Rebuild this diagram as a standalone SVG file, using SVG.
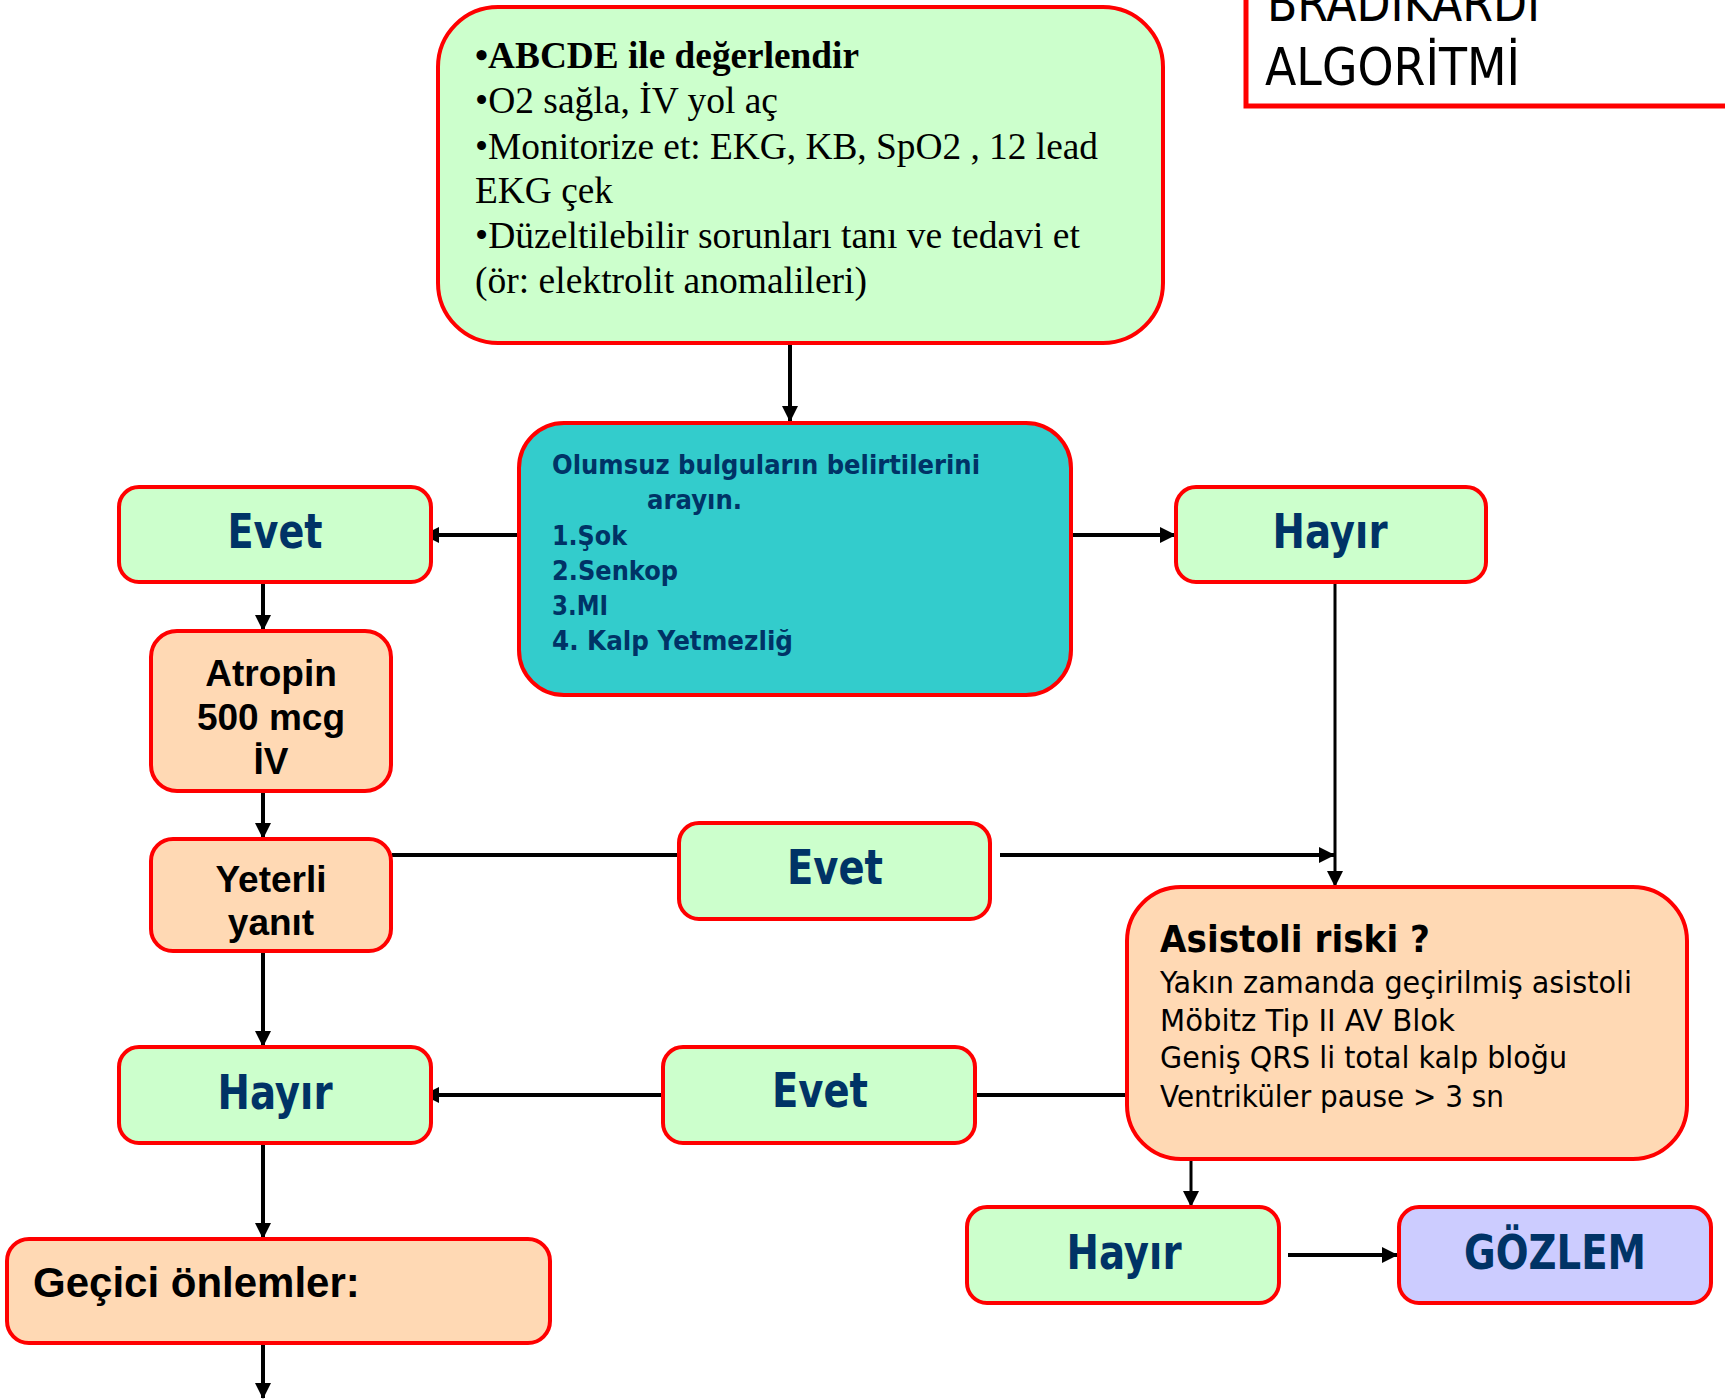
<svg xmlns="http://www.w3.org/2000/svg" width="1725" height="1399" viewBox="0 0 1725 1399">
  <defs>
    <marker id="arrow" markerWidth="16" markerHeight="16" refX="15" refY="8" orient="auto" markerUnits="userSpaceOnUse">
      <path d="M0,0 L16,8 L0,16 z" fill="#000"/>
    </marker>
    <style>
      .box { stroke: #FF0000; stroke-width: 4; }
      .green { fill: #CCFFCC; }
      .peach { fill: #FFD9B4; }
      .teal { fill: #33CCCC; }
      .lilac { fill: #CCCCFF; }
      .conn { stroke: #000; stroke-width: 4; fill: none; }
      .thin { stroke-width: 3; }
      .serif { font-family: "Liberation Serif", "Times New Roman", serif; font-size: 37px; fill: #000; }
      .label { font-family: "DejaVu Sans", Verdana, sans-serif; font-weight: bold; font-size: 48px; fill: #003366; text-anchor: middle; }
      .teal-txt { font-family: "DejaVu Sans", Verdana, sans-serif; font-weight: bold; font-size: 26px; fill: #003366; }
      .arial { font-family: "Liberation Sans", Arial, sans-serif; font-weight: bold; font-size: 37px; fill: #000; text-anchor: middle; }
      .arial-left { font-family: "Liberation Sans", Arial, sans-serif; font-weight: bold; font-size: 42px; fill: #000; text-anchor: start; }
      .risk { font-family: "DejaVu Sans", Verdana, sans-serif; font-size: 30px; fill: #000; }
      .risk-head { font-family: "DejaVu Sans", Verdana, sans-serif; font-size: 38px; font-weight: bold; fill: #000; }
      .title { font-family: "DejaVu Sans", Tahoma, sans-serif; font-size: 51px; fill: #000; }
    </style>
  </defs>

  <rect width="1725" height="1399" fill="#FFFFFF"/>

  <!-- title frame -->
  <g id="title">
    <rect x="1246" y="-20" width="500" height="126" fill="none" stroke="#FF0000" stroke-width="5"/>
    <text class="title" x="1267" y="21" textLength="273" lengthAdjust="spacingAndGlyphs">BRADİKARDİ</text>
    <text class="title" x="1265" y="85" textLength="255" lengthAdjust="spacingAndGlyphs">ALGORİTMİ</text>
  </g>

  <!-- connectors -->
  <g id="connectors">
    <line class="conn" x1="790" y1="343" x2="790" y2="421" marker-end="url(#arrow)"/>
    <line class="conn" x1="520" y1="535" x2="424" y2="535" marker-end="url(#arrow)"/>
    <line class="conn" x1="1064" y1="535" x2="1175" y2="535" marker-end="url(#arrow)"/>
    <line class="conn" x1="263" y1="582" x2="263" y2="630" marker-end="url(#arrow)"/>
    <line class="conn" x1="263" y1="792" x2="263" y2="838" marker-end="url(#arrow)"/>
    <line class="conn" x1="392" y1="855" x2="679" y2="855"/>
    <line class="conn" x1="1000" y1="855" x2="1334" y2="855" marker-end="url(#arrow)"/>
    <line class="conn thin" x1="1335" y1="582" x2="1335" y2="886" marker-end="url(#arrow)"/>
    <line class="conn" x1="263" y1="952" x2="263" y2="1046" marker-end="url(#arrow)"/>
    <line class="conn" x1="1127" y1="1095" x2="968" y2="1095"/>
    <line class="conn" x1="662" y1="1095" x2="424" y2="1095" marker-end="url(#arrow)"/>
    <line class="conn" x1="263" y1="1143" x2="263" y2="1238" marker-end="url(#arrow)"/>
    <line class="conn" x1="263" y1="1335" x2="263" y2="1398" marker-end="url(#arrow)"/>
    <line class="conn thin" x1="1191" y1="1159" x2="1191" y2="1206" marker-end="url(#arrow)"/>
    <line class="conn" x1="1288" y1="1255" x2="1397" y2="1255" marker-end="url(#arrow)"/>
  </g>

  <!-- initial assessment -->
  <g id="assess">
    <rect class="box green" x="438" y="7" width="725" height="336" rx="60" ry="60"/>
    <text class="serif" x="475" y="68" font-weight="bold" textLength="384" lengthAdjust="spacingAndGlyphs">•ABCDE ile değerlendir</text>
    <text class="serif" x="475" y="113" textLength="303" lengthAdjust="spacingAndGlyphs">•O2 sağla, İV yol aç</text>
    <text class="serif" x="475" y="159" textLength="623" lengthAdjust="spacingAndGlyphs">•Monitorize et: EKG, KB, SpO2 , 12 lead</text>
    <text class="serif" x="475" y="203" textLength="138" lengthAdjust="spacingAndGlyphs">EKG çek</text>
    <text class="serif" x="475" y="248" textLength="605" lengthAdjust="spacingAndGlyphs">•Düzeltilebilir sorunları tanı ve tedavi et</text>
    <text class="serif" x="475" y="293" textLength="392" lengthAdjust="spacingAndGlyphs">(ör: elektrolit anomalileri)</text>
  </g>

  <!-- adverse signs check -->
  <g id="adverse">
    <rect class="box teal" x="519" y="423" width="552" height="272" rx="45" ry="45"/>
    <text class="teal-txt" x="552" y="474" textLength="428" lengthAdjust="spacingAndGlyphs">Olumsuz bulguların belirtilerini</text>
    <text class="teal-txt" x="647" y="509" textLength="95" lengthAdjust="spacingAndGlyphs">arayın.</text>
    <text class="teal-txt" x="552" y="545" textLength="75" lengthAdjust="spacingAndGlyphs">1.Şok</text>
    <text class="teal-txt" x="552" y="580" textLength="126" lengthAdjust="spacingAndGlyphs">2.Senkop</text>
    <text class="teal-txt" x="552" y="615" textLength="56" lengthAdjust="spacingAndGlyphs">3.MI</text>
    <text class="teal-txt" x="552" y="650" textLength="241" lengthAdjust="spacingAndGlyphs">4. Kalp Yetmezliğ</text>
  </g>

  <g id="evet-1">
    <rect class="box green" x="119" y="487" width="312" height="95" rx="20" ry="20"/>
    <text class="label" x="275" y="548" textLength="95" lengthAdjust="spacingAndGlyphs">Evet</text>
  </g>

  <g id="hayir-1">
    <rect class="box green" x="1176" y="487" width="310" height="95" rx="20" ry="20"/>
    <text class="label" x="1330" y="548" textLength="115" lengthAdjust="spacingAndGlyphs">Hayır</text>
  </g>

  <g id="atropin">
    <rect class="box peach" x="151" y="631" width="240" height="160" rx="26" ry="26"/>
    <text class="arial" x="271" y="686">Atropin</text>
    <text class="arial" x="271" y="730">500 mcg</text>
    <text class="arial" x="271" y="774">İV</text>
  </g>

  <g id="yeterli">
    <rect class="box peach" x="151" y="839" width="240" height="112" rx="22" ry="22"/>
    <text class="arial" x="271" y="892">Yeterli</text>
    <text class="arial" x="271" y="935">yanıt</text>
  </g>

  <g id="evet-2">
    <rect class="box green" x="679" y="823" width="311" height="96" rx="20" ry="20"/>
    <text class="label" x="835" y="884" textLength="96" lengthAdjust="spacingAndGlyphs">Evet</text>
  </g>

  <g id="asistoli">
    <rect class="box peach" x="1127" y="887" width="560" height="272" rx="54" ry="54"/>
    <text class="risk-head" x="1160" y="952" textLength="270" lengthAdjust="spacingAndGlyphs">Asistoli riski ?</text>
    <text class="risk" x="1160" y="993" textLength="472" lengthAdjust="spacingAndGlyphs">Yakın zamanda geçirilmiş asistoli</text>
    <text class="risk" x="1160" y="1031" textLength="295" lengthAdjust="spacingAndGlyphs">Möbitz Tip II AV Blok</text>
    <text class="risk" x="1160" y="1068" textLength="407" lengthAdjust="spacingAndGlyphs">Geniş QRS li total kalp bloğu</text>
    <text class="risk" x="1160" y="1107" textLength="344" lengthAdjust="spacingAndGlyphs">Ventriküler pause &gt; 3 sn</text>
  </g>

  <g id="hayir-2">
    <rect class="box green" x="119" y="1047" width="312" height="96" rx="20" ry="20"/>
    <text class="label" x="275" y="1109" textLength="115" lengthAdjust="spacingAndGlyphs">Hayır</text>
  </g>

  <g id="evet-3">
    <rect class="box green" x="663" y="1047" width="312" height="96" rx="20" ry="20"/>
    <text class="label" x="820" y="1107" textLength="96" lengthAdjust="spacingAndGlyphs">Evet</text>
  </g>

  <g id="gecici">
    <rect class="box peach" x="7" y="1239" width="543" height="104" rx="22" ry="22"/>
    <text class="arial-left" x="33" y="1297">Geçici önlemler:</text>
  </g>

  <g id="hayir-3">
    <rect class="box green" x="967" y="1207" width="312" height="96" rx="20" ry="20"/>
    <text class="label" x="1124" y="1269" textLength="115" lengthAdjust="spacingAndGlyphs">Hayır</text>
  </g>

  <g id="gozlem">
    <rect class="box lilac" x="1399" y="1207" width="312" height="96" rx="20" ry="20"/>
    <text class="label" x="1555" y="1269" textLength="182" lengthAdjust="spacingAndGlyphs">GÖZLEM</text>
  </g>
</svg>
